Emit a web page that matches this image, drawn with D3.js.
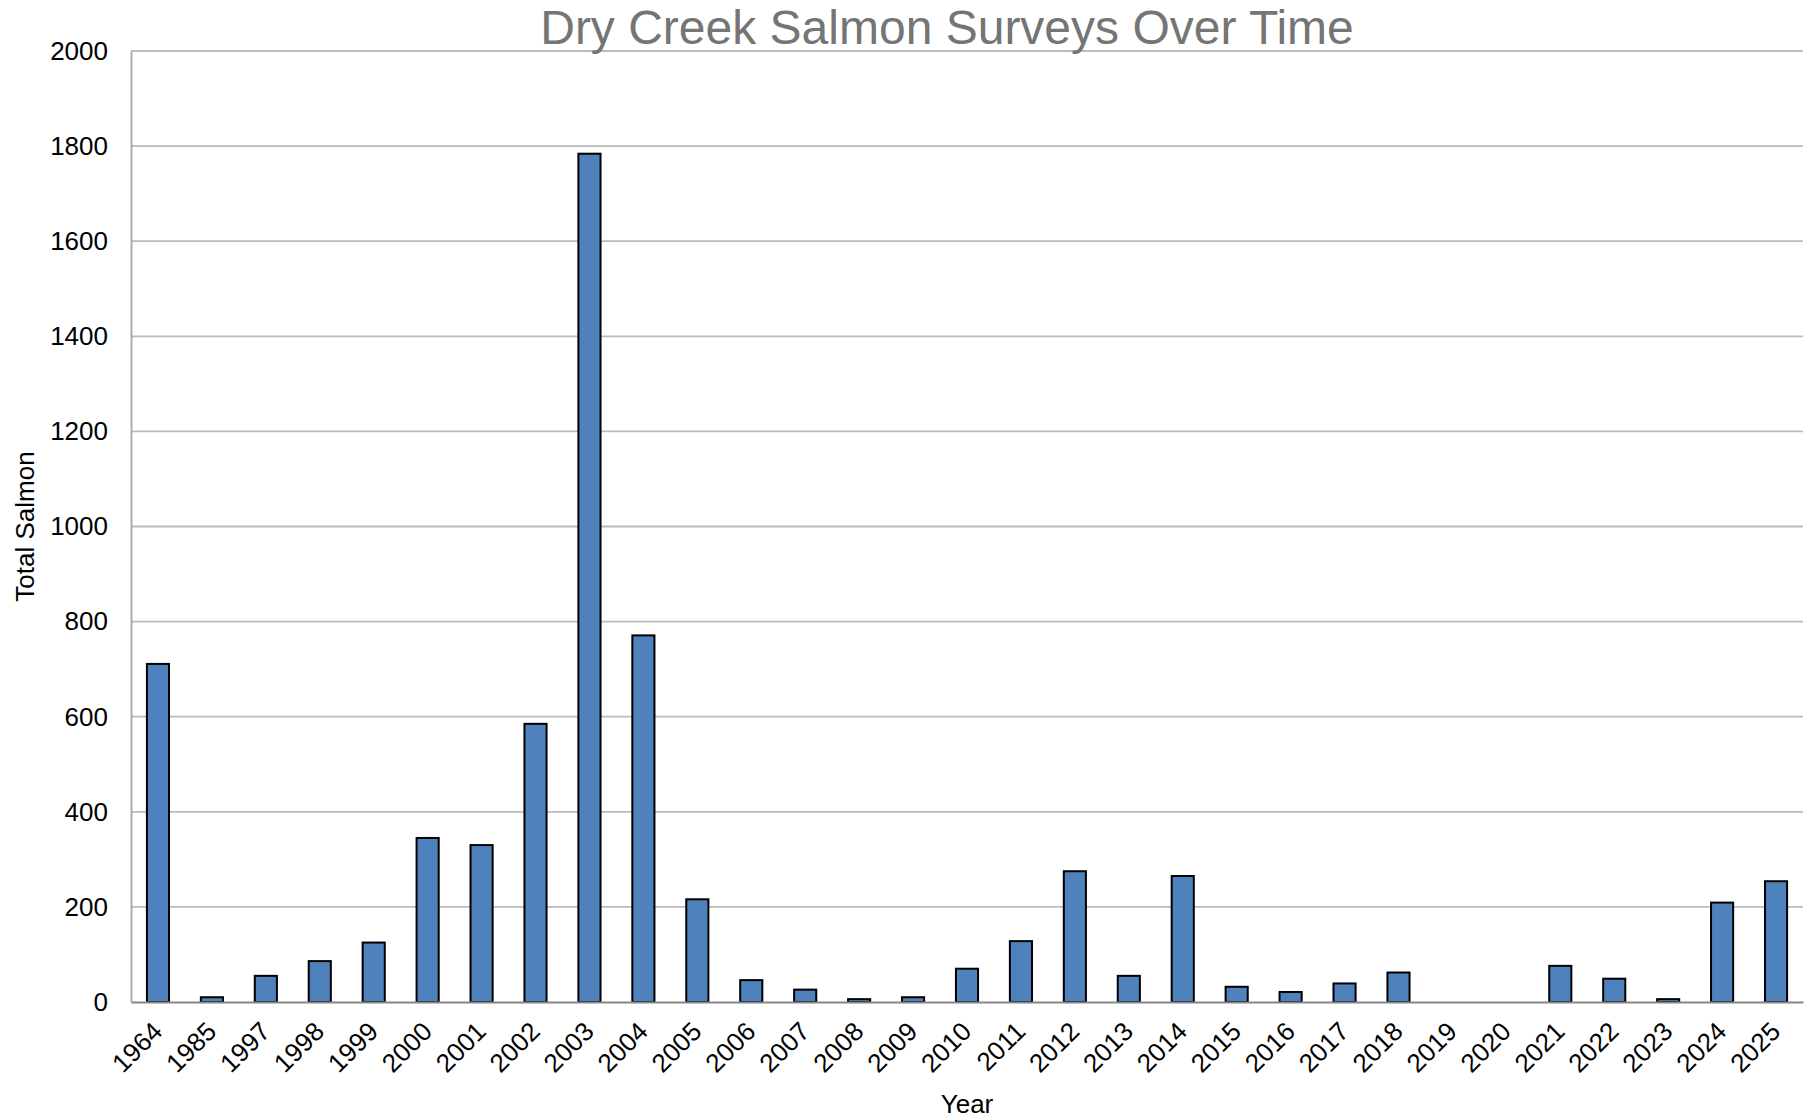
<!DOCTYPE html>
<html>
<head>
<meta charset="utf-8">
<script src="https://cdn.jsdelivr.net/npm/d3@7"></script>
<style>
  body { margin: 0; background: #fff; }
  text { font-family: 'Liberation Sans', Arial, sans-serif; }
</style>
</head>
<body>
<svg id="chart"></svg>
<script>
  // survey years and fish counts
  var years = ['1964', '1985', '1997', '1998', '1999', '2000', '2001', '2002', '2003', '2004',
    '2005', '2006', '2007', '2008', '2009', '2010', '2011', '2012', '2013', '2014',
    '2015', '2016', '2017', '2018', '2019', '2020', '2021', '2022', '2023', '2024', '2025'];
  var salmon = [711, 10, 55, 86, 125, 345, 330, 585, 1784, 771,
    216, 46, 26, 6, 10, 70, 128, 275, 55, 265,
    32, 21, 39, 62, 0, 0, 76, 49, 6, 209, 254];
  var yTicks = [0, 200, 400, 600, 800, 1000, 1200, 1400, 1600, 1800, 2000];

  var width = 1818;
  var height = 1119;
  var plotLeft = 131, plotRight = 1803, plotTop = 51, plotBottom = 1002;

  var svg = d3.select('#chart')
    .attr('width', width)
    .attr('height', height);

  var data = years.map(function(yr, i) {
    return { year: yr, value: salmon[i] };
  });

  var x = d3.scaleBand()
    .domain(years)
    .range([plotLeft, plotRight])
    .paddingInner(0.59)
    .paddingOuter(0.295);

  var y = d3.scaleLinear()
    .domain([0, 2000])
    .range([plotBottom, plotTop]);

  // gridlines
  svg.append('g')
    .selectAll('line')
    .data(yTicks.slice(1))
    .enter()
    .append('line')
    .attr('x1', plotLeft)
    .attr('x2', plotRight)
    .attr('y1', function(d) { return y(d); })
    .attr('y2', function(d) { return y(d); })
    .attr('stroke', '#bcbcbc')
    .attr('stroke-width', 1.8);

  // y axis
  var yAxis = svg.append('g')
    .attr('transform', 'translate(' + plotLeft + ',0)')
    .call(d3.axisLeft(y).tickValues(yTicks).tickSize(0).tickPadding(23).tickFormat(d3.format('d')));
  yAxis.select('.domain').attr('stroke', '#a6a6a6').attr('stroke-width', 1.8);
  yAxis.selectAll('text')
    .style('font-size', '26px')
    .attr('fill', '#000');

  // bars
  svg.append('g')
    .selectAll('rect')
    .data(data)
    .enter()
    .append('rect')
    .attr('x', function(d) { return x(d.year); })
    .attr('width', x.bandwidth())
    .attr('y', function(d) { return y(d.value); })
    .attr('height', function(d) { return y(0) - y(d.value); })
    .attr('fill', '#4f81bd')
    .attr('stroke', function(d) { return d.value > 0 ? '#000' : 'none'; })
    .attr('stroke-width', 2);

  // x axis baseline
  var xAxis = svg.append('g')
    .attr('transform', 'translate(0,' + plotBottom + ')')
    .call(d3.axisBottom(x).tickSize(0).tickPadding(0));
  xAxis.select('.domain').attr('stroke', '#868686').attr('stroke-width', 2);
  xAxis.selectAll('text')
    .style('font-size', '26px')
    .attr('fill', '#000')
    .attr('text-anchor', 'end')
    .attr('dy', null)
    .attr('y', null)
    .attr('transform', 'translate(6,31) rotate(-45)');

  // titles
  svg.append('text')
    .attr('x', 947)
    .attr('y', 44)
    .attr('text-anchor', 'middle')
    .attr('fill', '#757575')
    .style('font-size', '48px')
    .text('Dry Creek Salmon Surveys Over Time');

  svg.append('text')
    .attr('x', (plotLeft + plotRight) / 2)
    .attr('y', 1113)
    .attr('text-anchor', 'middle')
    .attr('fill', '#000')
    .style('font-size', '26px')
    .text('Year');

  svg.append('text')
    .attr('transform', 'translate(34,' + (plotTop + plotBottom) / 2 + ') rotate(-90)')
    .attr('text-anchor', 'middle')
    .attr('fill', '#000')
    .style('font-size', '26px')
    .text('Total Salmon');
</script>
</body>
</html>
